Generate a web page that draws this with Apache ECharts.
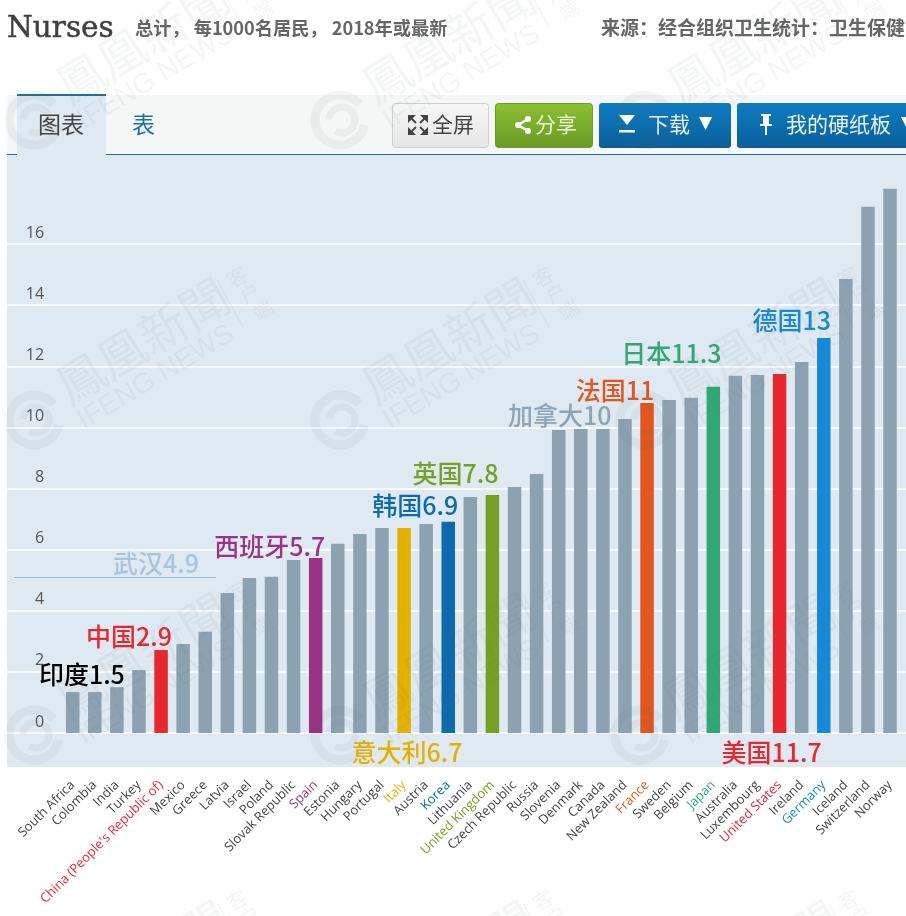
<!DOCTYPE html>
<html><head><meta charset="utf-8">
<style>html,body{margin:0;padding:0;background:#fff}#c{width:906px;height:916px}</style>
<script src="https://cdn.jsdelivr.net/npm/echarts@6/dist/echarts.min.js"></script>
</head><body><div id="c"></div>
<script>
var categories = ['South Africa','Colombia','India','Turkey',"China (People's Republic of)",'Mexico','Greece','Latvia','Israel','Poland','Slovak Republic','Spain','Estonia','Hungary','Portugal','Italy','Austria','Korea','Lithuania','United Kingdom','Czech Republic','Russia','Slovenia','Denmark','Canada','New Zealand','France','Sweden','Belgium','Japan','Australia','Luxembourg','United States','Ireland','Germany','Iceland','Switzerland','Norway'];
var values = [1.34,1.34,1.5,2.06,2.72,2.91,3.31,4.58,5.07,5.11,5.66,5.73,6.19,6.51,6.71,6.71,6.84,6.91,7.72,7.79,8.05,8.48,9.92,9.95,9.95,10.28,10.8,10.9,10.97,11.33,11.69,11.72,11.75,12.14,12.93,14.86,17.22,17.81];
var yTicks = [0,2,4,6,8,10,12,14,16];
var calloutNames = ['India',"China (People's Republic of)",'Spain','Italy','Korea','United Kingdom','Canada','France','Japan','United States','Germany'];
var calloutTexts = ['印度1.5','中国2.9','西班牙5.7','意大利6.7','韩国6.9','英国7.8','加拿大10','法国11','日本11.3','美国11.7','德国13'];
var calloutColors = ['#000000','#e8262e','#9b3384','#e3b100','#0f69ae','#74a125','#8ea3b3','#e2561f','#31a874','#e8262e','#1789d9'];
var calloutOffsets = [[-35,0],[-32,0],[-46,2],[3,238],[-33,-3],[-37,-8],[-43,0],[-32,0],[-42,-20],[-8,392],[-32,-4]];
var plainBars = ['India','Canada'];
var barColor = '#8da2b1';
var wuhanText = '武汉4.9', titleText = 'Nurses', subtitleText = '总计， 每1000名居民， 2018年或最新', sourceText = '来源：经合组织卫生统计：卫生保健';

var CJK = '"Noto Sans CJK SC","Noto Sans",sans-serif';
function styleFor(name){ return calloutNames.indexOf(name); }
function isPlain(name){ return plainBars.indexOf(name)>=0; }
var barData = values.map(function(v,i){
  var k = styleFor(categories[i]);
  if(k<0) return {value:v};
  return {value:v, itemStyle:{color: isPlain(categories[i])?barColor:calloutColors[k]},
    label:{show:true,position:'top',distance:0,formatter:calloutTexts[k],color:calloutColors[k],
      fontFamily:CJK,fontSize:25,fontWeight:500,lineHeight:26,offset:calloutOffsets[k]}};
});
function grad(a,b){return {type:'linear',x:0,y:0,x2:0,y2:1,colorStops:[{offset:0,color:a},{offset:1,color:b}]};}
function txt(x,y,t,size,color,extra){
  var s={text:t,font:(extra&&extra.weight||'normal')+' '+size+'px '+(extra&&extra.family||CJK),fill:color,textVerticalAlign:'middle',textAlign:(extra&&extra.align)||'left'};
  if(extra&&extra.stroke){s.stroke=color;s.lineWidth=extra.stroke;}
  return {type:'text',x:x,y:y,z:-5,style:s};
}
function rect(x,y,w,h,fill,r,stroke,z){
  return {type:'rect',z:z==null?-8:z,shape:{x:x,y:y,width:w,height:h,r:r||0},style:{fill:fill,stroke:stroke||null,lineWidth:stroke?1:0}};
}
function poly(pts,fill){return {type:'polygon',z:-5,shape:{points:pts},style:{fill:fill}};}

var g = [];
// page chrome
g.push(rect(7,95,899,60,'#f5f6f6'));
g.push(rect(7,155,899,612,'#dfe9f2'));
g.push(rect(17,95,89,60,'#dfe9f2'));
g.push(rect(17,94,89,2,'#1a70a8',0,null,-6));
g.push(rect(106,154,800,1,'#1a70a8',0,null,-6));
g.push(rect(7,154,10,1,'#1a70a8',0,null,-6));
g.push(txt(38,124,'图表',23,'#444'));
g.push(txt(132,124,'表',23,'#1a70a8'));
// buttons
g.push(rect(392.5,103.5,96,44,grad('#f7f7f7','#e6e6e6'),3,'#d0d0d0'));
g.push(rect(495.5,103.5,97,44,grad('#8cc032','#6a9a26'),3,'#6d9a2a'));
g.push(rect(599,103,132,45,grad('#0f7cc2','#0a5f99'),3));
g.push(rect(737,103,175,45,grad('#0f7cc2','#0a5f99'),3));
// fullscreen icon
[[408,115,1,1],[428,115,-1,1],[408,135,1,-1],[428,135,-1,-1]].forEach(function(a){
  var x=a[0],y=a[1],sx=a[2],sy=a[3];
  g.push(poly([[x,y],[x+8*sx,y],[x,y+8*sy]],'#444'));
  g.push({type:'line',z:-5,shape:{x1:x+3*sx,y1:y+3*sy,x2:x+8*sx,y2:y+8*sy},style:{stroke:'#444',lineWidth:2}});
});
g.push(txt(432,124,'全屏',21,'#444'));
// share icon
g.push({type:'polyline',z:-5,shape:{points:[[528,119],[518,125],[528,131]]},style:{stroke:'#fff',lineWidth:2.5,fill:null}});
[[528,119],[518,125],[528,131]].forEach(function(p){g.push({type:'circle',z:-5,shape:{cx:p[0],cy:p[1],r:3},style:{fill:'#fff'}});});
g.push(txt(535,124,'分享',21,'#e8f3d2'));
// download icon
g.push(poly([[619,115],[635,115],[627,125]],'#fff'));
g.push(rect(619,130,16,2.5,'#fff',0,null,-5));
g.push(txt(648,124,'下载',21,'#e6f1f8'));
g.push(txt(699,124,'▼',17,'#fff',{family:'"DejaVu Sans"'}));
// pin icon
g.push(rect(761,114,10,2,'#fff',0,null,-5));
g.push(rect(763,116,6,8,'#fff',0,null,-5));
g.push(poly([[760,124],[772,124],[772,126],[760,126]],'#fff'));
g.push(rect(765,126,2,9,'#fff',0,null,-5));
g.push(txt(786,124,'我的硬纸板',21,'#e6f1f8'));
g.push(txt(901,124,'▼',17,'#fff',{family:'"DejaVu Sans"'}));
// header
g.push(txt(7,29,titleText,29.5,'#3f3f3f',{family:'"DejaVu Serif",serif',stroke:0.5}));
g.push(txt(135,28,subtitleText,18.2,'#666',{weight:'bold'}));
g.push(txt(601,28,sourceText,19,'#666',{weight:'bold'}));
// Wuhan reference note
g.push({type:'line',z:5,shape:{x1:14,y1:577.5,x2:216,y2:577.5},style:{stroke:'#9dbdd6',lineWidth:1}});
g.push({type:'text',x:156,y:563,z:5,style:{text:wuhanText,font:'500 25px '+CJK,fill:'#a7c4da',textAlign:'center',textVerticalAlign:'middle'}});
// watermark
var wm='rgba(90,100,110,0.065)', rot=31*Math.PI/180;
[[34,120],[340,120],[645,120],[34,420],[340,420],[645,420],[34,735],[340,735],[640,735],[34,1043],[340,1043],[645,1043]].forEach(function(p){
  var kids=[
    {type:'arc',shape:{cx:0,cy:0,r:25,startAngle:0.2,endAngle:5.6},style:{fill:null,stroke:wm,lineWidth:9}},
    {type:'arc',shape:{cx:2,cy:0,r:13,startAngle:3.2,endAngle:8.4},style:{fill:null,stroke:wm,lineWidth:7}},
    {type:'text',x:26,y:-30,rotation:rot,style:{text:'鳳凰新聞',font:'48px "Noto Sans CJK TC",serif',fill:wm,textVerticalAlign:'middle'}},
    {type:'text',x:46,y:3,rotation:rot,style:{text:'IFENG NEWS',font:'28px "Liberation Sans",sans-serif',fill:wm,textVerticalAlign:'middle'}},
    {type:'line',shape:{x1:183,y1:-140,x2:209,y2:-93},style:{stroke:wm,lineWidth:1.5}},
    {type:'text',x:203,y:-143,rotation:rot,style:{text:'客',font:'20px '+CJK,fill:wm,textAlign:'center',textVerticalAlign:'middle'}},
    {type:'text',x:216,y:-127,rotation:rot,style:{text:'户',font:'20px '+CJK,fill:wm,textAlign:'center',textVerticalAlign:'middle'}},
    {type:'text',x:229,y:-110,rotation:rot,style:{text:'端',font:'20px '+CJK,fill:wm,textAlign:'center',textVerticalAlign:'middle'}}
  ];
  g.push({type:'group',x:p[0],y:p[1],z:50,silent:true,children:kids.map(function(k){k.z=50;return k;})});
});

var chart = echarts.init(document.getElementById('c'),null,{renderer:'canvas'});
chart.setOption({
  animation:false,
  backgroundColor:'#fff',
  graphic:{elements:g},
  grid:[
    {left:61.65,right:4.9,top:183,bottom:183},
    {left:7,right:0,top:183,bottom:183}
  ],
  xAxis:[
    {type:'category',gridIndex:0,data:categories,axisTick:{show:false},axisLine:{show:false},
     axisLabel:{interval:0,rotate:45,margin:50,fontFamily:'"Open Sans",sans-serif',fontSize:13,
       color:function(v){var k=styleFor(v);return (k<0||isPlain(v))?'#444':calloutColors[k];}}},
    {type:'value',gridIndex:1,min:0,max:1,show:false}
  ],
  yAxis:[
    {type:'value',gridIndex:0,min:0,max:18,interval:2,axisLine:{show:false},axisTick:{show:false},splitLine:{show:false},
     axisLabel:{margin:17.5,showMaxLabel:false,verticalAlign:'bottom',lineHeight:22,fontSize:16,fontFamily:'"Open Sans",sans-serif',color:'#555',
       formatter:function(v){return yTicks.indexOf(v)>=0?String(v):'';}}},
    {type:'value',gridIndex:1,min:0,max:18,interval:2,axisLine:{show:false},axisTick:{show:false},axisLabel:{show:false},
     splitLine:{show:true,showMaxLine:false,lineStyle:{color:'#fff',width:1.5}}}
  ],
  series:[{type:'bar',xAxisIndex:0,yAxisIndex:0,data:barData,barWidth:13.5,itemStyle:{color:barColor},z:3}]
});
</script></body></html>
